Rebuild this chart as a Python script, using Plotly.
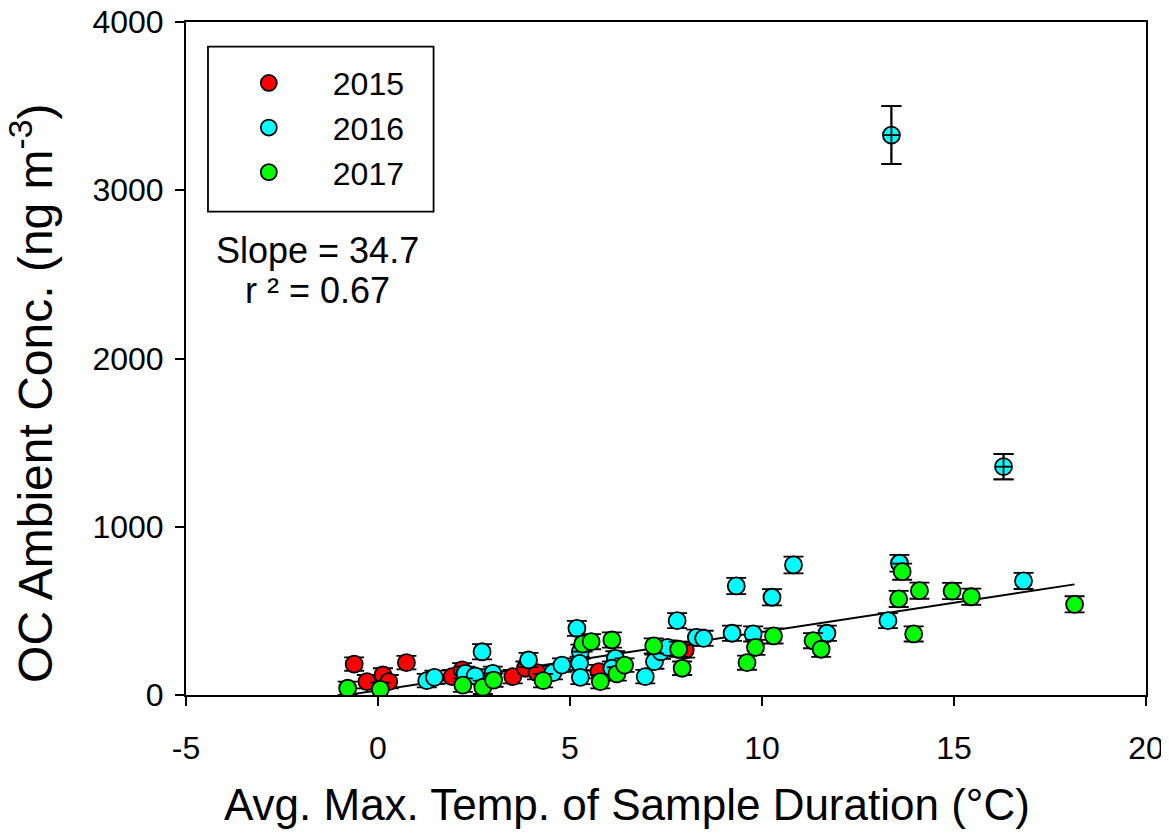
import plotly.graph_objects as go

# ---- data ----
years = ["2015", "2016", "2017"]

x_2015 = [-0.62, -0.29, 0.13, 0.28, 0.74, 1.93, 2.19, 3.51, 3.84, 4.14, 5.75, 8.00]
y_2015 = [184, 79, 119, 79, 192, 109, 149, 109, 159, 133, 139, 267]
e_2015 = [40, 40, 40, 40, 40, 40, 40, 40, 40, 40, 40, 45]

x_2016 = [1.27, 1.47, 2.27, 2.53, 2.71, 2.99, 3.92, 4.56, 4.79, 5.18, 5.27, 5.25,
          5.27, 6.18, 6.09, 6.96, 7.20, 7.37, 7.54, 7.79, 8.29, 8.48, 9.22, 9.33,
          9.77, 10.26, 10.82, 11.50, 11.69, 13.28, 13.37, 13.58, 16.29, 16.81]
y_2016 = [85, 105, 129, 113, 257, 129, 208, 133, 178, 396, 257, 188,
          105, 218, 159, 109, 198, 257, 283, 442, 343, 337, 367, 648,
          363, 581, 773, 320, 367, 442, 3328, 783, 1357, 678]
e_2016 = [40, 40, 40, 40, 45, 40, 42, 40, 40, 45, 42, 40,
          40, 42, 40, 40, 42, 42, 42, 45, 45, 45, 45, 48,
          45, 48, 50, 45, 45, 45, 172, 50, 75, 48]

x_2017 = [-0.79, 0.06, 2.21, 2.73, 3.01, 4.30, 5.33, 5.55, 6.09, 5.79, 6.22, 6.42,
          7.18, 7.83, 7.92, 9.61, 9.83, 10.30, 11.33, 11.54, 13.56, 13.65, 13.95,
          14.10, 14.95, 15.45, 18.14]
y_2017 = [40, 34, 59, 46, 89, 85, 303, 317, 327, 79, 125, 178,
          292, 272, 159, 192, 283, 351, 323, 272, 571, 733, 363,
          620, 618, 584, 539]
e_2017 = [40, 40, 40, 40, 40, 40, 45, 45, 45, 40, 40, 40,
          45, 45, 40, 42, 45, 45, 45, 45, 48, 48, 45,
          48, 48, 48, 48]

colors = ["#FF0000", "#00FFFF", "#00FF00"]

slope = 34.7
intercept = 28.0
r2 = 0.67

x_ticks = [-5, 0, 5, 10, 15, 20]
x_ticktext = ["-5", "0", "5", "10", "15", "20"]
y_ticks = [0, 1000, 2000, 3000, 4000]

x_title = "Avg. Max. Temp. of Sample Duration (°C)"
y_title = "OC Ambient Conc. (ng m<sup>-3</sup>)"

FONT = "Liberation Sans, Arial, sans-serif"

fig = go.Figure()

series = [(x_2015, y_2015, e_2015), (x_2016, y_2016, e_2016), (x_2017, y_2017, e_2017)]

# regression line
all_x = x_2015 + x_2016 + x_2017
lx = [min(all_x), max(all_x)]
ly = [slope * v + intercept for v in lx]
fig.add_trace(go.Scatter(x=lx, y=ly, mode="lines", line=dict(color="black", width=2),
                         showlegend=False, hoverinfo="skip"))

for name, (xs, ys, es), c in zip(years, series, colors):
    fig.add_trace(go.Scatter(
        x=xs, y=ys, mode="markers", name=name,
        marker=dict(size=17, color=c, line=dict(color="black", width=1.8)),
        error_y=dict(type="data", array=es, visible=True, color="black",
                     thickness=1.8, width=10),
    ))

# error bars drawn over markers where they exceed the marker (large uncertainties)
big = [(x, y, e) for x, y, e in zip(x_2016, y_2016, e_2016) if e > 60]
fig.add_trace(go.Scatter(
    x=[b[0] for b in big], y=[b[1] for b in big], mode="markers",
    marker=dict(size=17, color="rgba(0,0,0,0)"),
    error_y=dict(type="data", array=[b[2] for b in big], visible=True, color="black",
                 thickness=1.8, width=10),
    error_x=dict(type="constant", value=0.21, visible=True, color="black",
                 thickness=1.8, width=0),
    showlegend=False, hoverinfo="skip"))

# legend box
fig.add_shape(type="rect", xref="paper", yref="paper",
              x0=0.0229, x1=0.2579, y0=0.7181, y1=0.9633,
              line=dict(color="black", width=1.8), fillcolor="rgba(0,0,0,0)")

fig.add_annotation(xref="paper", yref="paper", x=0.1368, y=0.661,
                   text=f"Slope = {slope}", showarrow=False,
                   font=dict(family=FONT, size=36, color="black"),
                   xanchor="center", yanchor="middle")
fig.add_annotation(xref="paper", yref="paper", x=0.1368, y=0.6015,
                   text=f"r ² = {r2}", showarrow=False,
                   font=dict(family=FONT, size=36, color="black"),
                   xanchor="center", yanchor="middle")

# axis titles
fig.add_annotation(xref="paper", yref="paper", x=0.459, y=-0.162,
                   text=x_title, showarrow=False,
                   font=dict(family=FONT, size=44, color="black"),
                   xanchor="center", yanchor="middle")
fig.add_annotation(xref="paper", yref="paper", x=-0.1605, y=0.4487,
                   text=y_title, showarrow=False, textangle=-90,
                   font=dict(family=FONT, size=48, color="black"),
                   xanchor="center", yanchor="middle")

# page body has an 8px margin -> offset the figure accordingly
fig.update_layout(
    width=1153, height=822,
    margin=dict(l=178, r=15, t=14, b=135),
    paper_bgcolor="white", plot_bgcolor="white",
    font=dict(family=FONT, size=32, color="black"),
    legend=dict(x=0.0196, y=0.95, xanchor="left", yanchor="top",
                bgcolor="rgba(0,0,0,0)", borderwidth=0,
                font=dict(family=FONT, size=32), itemwidth=118,
                tracegroupgap=0),
    showlegend=True,
)

fig.update_xaxes(range=[-5, 20], tickvals=x_ticks, ticktext=x_ticktext,
                 ticks="outside", ticklen=9, automargin=False, ticklabelstandoff=15,
                 ticklabeloverflow="allow",
                 tickwidth=1.8, tickcolor="black", showline=True, linecolor="black",
                 linewidth=2, mirror=True, showgrid=False, zeroline=False,
                 tickfont=dict(size=32))
fig.update_yaxes(range=[0, 4000], tickvals=y_ticks, ticks="outside", ticklen=9,
                 automargin=False, ticklabelstandoff=5, ticklabeloverflow="allow",
                 tickwidth=1.8, tickcolor="black", showline=True, linecolor="black",
                 linewidth=2, mirror=True, showgrid=False, zeroline=False,
                 tickfont=dict(size=32))

fig.write_html("out.html")
